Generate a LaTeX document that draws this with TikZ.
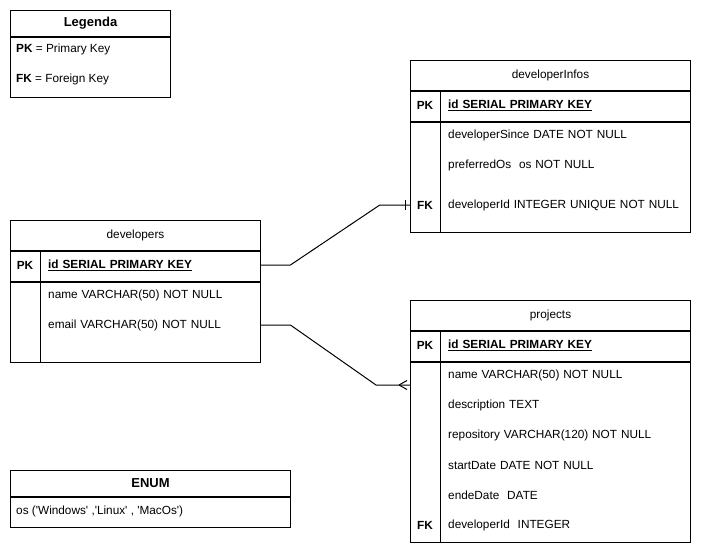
\documentclass[tikz,border=0pt]{standalone}
\usepackage{fontspec}
\setmainfont{Liberation Sans}
\usetikzlibrary{positioning}
\newcommand{\fs}{\fontsize{11.8}{14}\selectfont}
\newcommand{\sq}{\textquotesingle}
\tikzset{
	box/.style={draw, line width=1pt, inner sep=0pt, anchor=north west},
	fieldrow/.style={anchor=west, inner xsep=8pt, inner ysep=0pt, minimum height=30pt, text width=#1, align=left},
	keycell/.style={inner sep=0pt, minimum width=30pt, minimum height=30pt, font=\fs\bfseries},
	rel/.style={line width=1pt}
}
\begin{document}
\begin{tikzpicture}[x=1pt,y=-1pt,font=\fs]
	\useasboundingbox (0,0) rectangle (701,551);
	% legenda
	\node[box, minimum width=160pt, minimum height=26pt, font=\fontsize{13}{15}\selectfont\bfseries] (leghd) at (10,10) {Legenda};
	\node[box, minimum width=160pt, minimum height=60pt] (legbd) at (leghd.south west) {};
	\node[anchor=west, inner sep=0pt] (legpk) at (16,49) {\textbf{PK} = Primary Key};
	\node[anchor=west, inner sep=0pt] (legfk) at (16,79) {\textbf{FK} = Foreign Key};
	% developers
	\node[box, minimum width=250pt, minimum height=30pt] (devhd) at (10,220) {developers};
	\node[box, minimum width=250pt, minimum height=30pt] (devpk) at (devhd.south west) {};
	\node[box, minimum width=250pt, minimum height=80pt] (devbd) at (devpk.south west) {};
	\draw[rel] ([xshift=30pt]devpk.north west) -- ([xshift=30pt]devbd.south west);
	\node[keycell] (devpkk) at (25,265) {PK};
	\node[fieldrow=204pt] (devid) at (40,265) {\textbf{\underline{id SERIAL PRIMARY KEY}}};
	\node[fieldrow=204pt] (devname) at (40,295) {name VARCHAR(50) NOT NULL};
	\node[fieldrow=204pt] (devmail) at (40,325) {email VARCHAR(50) NOT NULL};
	% developerInfos
	\node[box, minimum width=280pt, minimum height=30pt] (infohd) at (410,60) {developerInfos};
	\node[box, minimum width=280pt, minimum height=30pt] (infopk) at (infohd.south west) {};
	\node[box, minimum width=280pt, minimum height=110pt] (infobd) at (infopk.south west) {};
	\draw[rel] ([xshift=30pt]infopk.north west) -- ([xshift=30pt]infobd.south west);
	\node[keycell] (infopkk) at (425,105) {PK};
	\node[fieldrow=234pt] (infoid) at (440,105) {\textbf{\underline{id SERIAL PRIMARY KEY}}};
	\foreach \y/\txt [count=\i] in {135/developerSince DATE NOT NULL,
								165/preferredOs\ \ os NOT NULL,
								205/developerId INTEGER UNIQUE NOT NULL}
		\node[fieldrow=234pt] (info\i) at (440,\y) {\mbox{\txt}};
	\node[keycell] (infofkk) at (425,205) {FK};
	% projects
	\node[box, minimum width=280pt, minimum height=30pt] (prjhd) at (410,300) {projects};
	\node[box, minimum width=280pt, minimum height=30pt] (prjpk) at (prjhd.south west) {};
	\node[box, minimum width=280pt, minimum height=180pt] (prjbd) at (prjpk.south west) {};
	\draw[rel] ([xshift=30pt]prjpk.north west) -- ([xshift=30pt]prjbd.south west);
	\node[keycell] (prjpkk) at (425,345) {PK};
	\node[fieldrow=234pt] (prjid) at (440,345) {\textbf{\underline{id SERIAL PRIMARY KEY}}};
	\foreach \y/\txt [count=\i] in {375/name VARCHAR(50) NOT NULL,
								405/description TEXT,
								435/repository VARCHAR(120) NOT NULL,
								465/startDate DATE NOT NULL,
								495/endeDate\ \ DATE,
								525/developerId\ \ INTEGER}
		\node[fieldrow=234pt] (prj\i) at (440,\y) {\mbox{\txt}};
	\node[keycell] (prjfkk) at (425,525) {FK};
	\coordinate (prjin) at (410,385);
	% enum
	\node[box, minimum width=280pt, minimum height=26pt, font=\fontsize{13}{15}\selectfont\bfseries] (enumhd) at (10,470) {ENUM};
	\node[box, minimum width=280pt, minimum height=30pt] (enumbd) at (enumhd.south west) {};
	\node[anchor=west, inner sep=0pt] (enumos) at (16,511) {os (\sq Windows\sq\ ,\sq Linux\sq\ , \sq MacOs\sq)};
	% relations
	\draw[rel] (devid.east) -- ++(30,0) -- ([xshift=-30pt]infofkk.west) -- (infofkk.west);
	\draw[rel] ([xshift=-4pt,yshift=5pt]infofkk.west) -- ([xshift=-4pt,yshift=-5pt]infofkk.west);
	\draw[rel] (devmail.east) -- ++(30,0) -- ([xshift=-34pt]prjin) -- (prjin);
	\draw[rel] ([xshift=-11pt]prjin) -- ([xshift=-3pt,yshift=4.5pt]prjin);
	\draw[rel] ([xshift=-11pt]prjin) -- ([xshift=-3pt,yshift=-4.5pt]prjin);
\end{tikzpicture}
\end{document}
